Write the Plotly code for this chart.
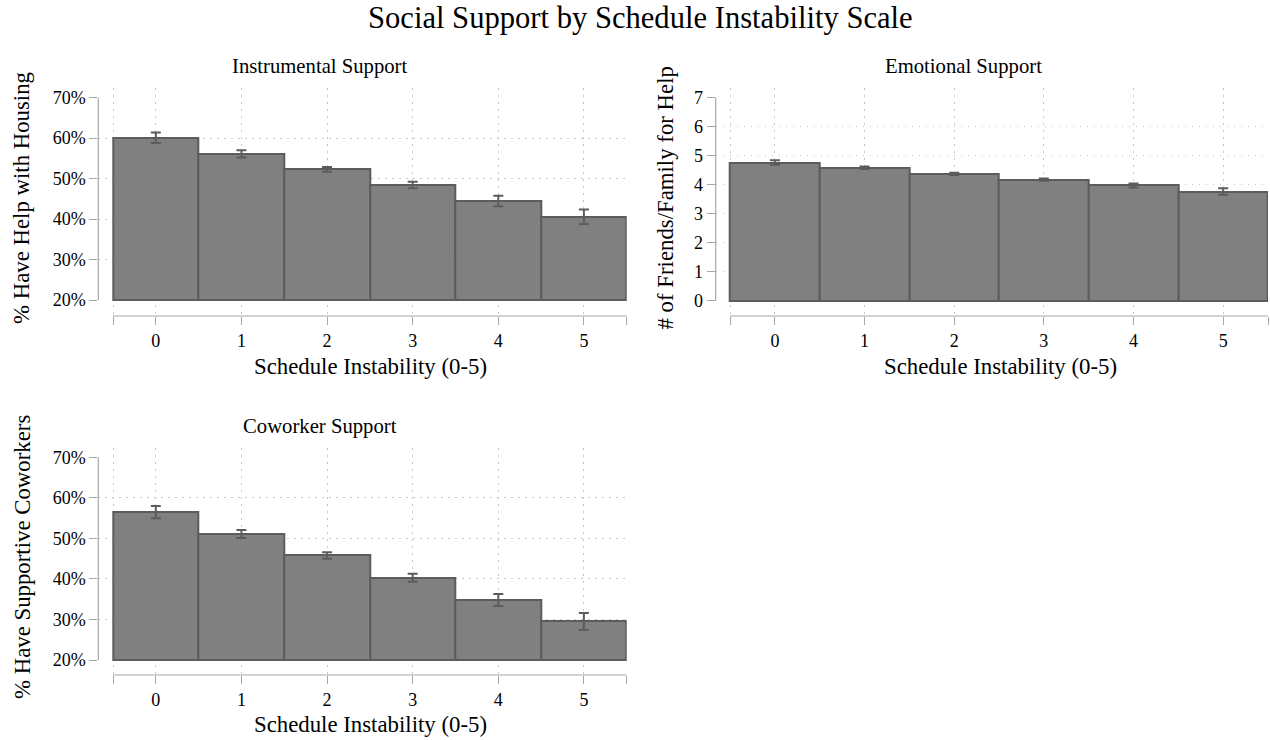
import plotly.graph_objects as go

# ---------------- data ----------------
categories = [0, 1, 2, 3, 4, 5]
tick_labels = ["0", "1", "2", "3", "4", "5"]

instrumental_pct = [60.1, 56.1, 52.3, 48.4, 44.5, 40.6]
instrumental_err = [1.3, 0.9, 0.6, 0.8, 1.3, 1.8]

emotional_count = [4.76, 4.58, 4.37, 4.17, 3.97, 3.76]
emotional_err = [0.08, 0.04, 0.04, 0.04, 0.07, 0.11]

coworker_pct = [56.5, 51.1, 45.8, 40.3, 34.8, 29.5]
coworker_err = [1.5, 1.0, 0.8, 1.0, 1.5, 2.1]

pct_ticks = [20, 30, 40, 50, 60, 70]
pct_tick_labels = ["20%", "30%", "40%", "50%", "60%", "70%"]
count_ticks = [0, 1, 2, 3, 4, 5, 6, 7]
count_tick_labels = ["0", "1", "2", "3", "4", "5", "6", "7"]

main_title = "Social Support by Schedule Instability Scale"
panel_titles = ["Instrumental Support", "Emotional Support", "Coworker Support"]
x_title = "Schedule Instability (0-5)"
y_titles = ["% Have Help with Housing", "# of Friends/Family for Help", "% Have Supportive Coworkers"]

# ---------------- styling ----------------
W, H = 1270, 740
FONT = "Liberation Serif, Times New Roman, serif"
BAR_FILL = "#808080"
BAR_LINE = "#5c5c5c"
AXIS_COL = "#a6a6a6"
GRID_COL = "#c8c8c8"
GRID_DASH = "1.5px,5.5px"
TICK_FONT = dict(family=FONT, size=18, color="black")


def fx(px):
    return px / W


def fy(px):
    return 1 - px / H


fig = go.Figure()

panels = [
    dict(vals=instrumental_pct, errs=instrumental_err, base=20, xa="x", ya="y",
         xdom=(98.3, 626.7), ydom=(88, 316), xr=[-0.672, 5.5], yr=[16.05, 72.4],
         yt=pct_ticks, ytt=pct_tick_labels, ymin=20, ymax=70),
    dict(vals=emotional_count, errs=emotional_err, base=0, xa="x2", ya="y2",
         xdom=(715.7, 1268), ydom=(88, 316), xr=[-0.66, 5.5], yr=[-0.53, 7.33],
         yt=count_ticks, ytt=count_tick_labels, ymin=0, ymax=7),
    dict(vals=coworker_pct, errs=coworker_err, base=20, xa="x3", ya="y3",
         xdom=(98.3, 626.7), ydom=(448, 675), xr=[-0.672, 5.5], yr=[16.3, 72.3],
         yt=pct_ticks, ytt=pct_tick_labels, ymin=20, ymax=70),
]

for i, p in enumerate(panels):
    base = p["base"]
    fig.add_trace(go.Bar(
        x=categories, y=[v - base for v in p["vals"]], base=base, width=1,
        marker=dict(color=BAR_FILL, line=dict(color=BAR_LINE, width=2)),
        xaxis=p["xa"], yaxis=p["ya"], showlegend=False, hoverinfo="skip"))
    fig.add_trace(go.Scatter(
        x=categories, y=p["vals"], mode="markers",
        marker=dict(size=1, opacity=0),
        error_y=dict(type="data", array=p["errs"], visible=True,
                     color=BAR_LINE, thickness=2, width=5),
        xaxis=p["xa"], yaxis=p["ya"], showlegend=False))

    suffix = "" if i == 0 else str(i + 1)
    inner = [t for t in p["yt"] if p["ymin"] < t < p["ymax"]]
    fig.update_layout(**{
        "xaxis" + suffix: dict(
            domain=[fx(p["xdom"][0]), fx(p["xdom"][1])],
            anchor=p["ya"], range=p["xr"],
            tickmode="array", tickvals=[-0.5] + categories + [5.5],
            ticktext=[""] + tick_labels + [""],
            ticks="outside", ticklen=8, tickcolor=AXIS_COL, tickwidth=1,
            showline=False, zeroline=False,
            showgrid=True, gridcolor=GRID_COL, griddash=GRID_DASH, gridwidth=1,
            tickfont=TICK_FONT,
            fixedrange=True),
        "yaxis" + suffix: dict(
            domain=[fy(p["ydom"][1]), fy(p["ydom"][0])],
            anchor=p["xa"], range=p["yr"],
            tickmode="array", tickvals=p["yt"], ticktext=p["ytt"],
            ticks="outside", ticklen=8, tickcolor=AXIS_COL, tickwidth=1,
            showline=False, zeroline=False, showgrid=False,
            minor=dict(tickmode="array", tickvals=inner, showgrid=True,
                       gridcolor=GRID_COL, griddash=GRID_DASH, gridwidth=1, ticks=""),
            tickfont=TICK_FONT,
            fixedrange=True),
    })
    fig.add_shape(type="line", xref=p["xa"] + " domain", yref=p["ya"],
                  x0=0, x1=0, y0=p["ymin"], y1=p["ymax"],
                  line=dict(color=AXIS_COL, width=1.2), layer="above")
    fig.add_shape(type="line", xref=p["xa"], yref=p["ya"] + " domain",
                  x0=-0.5, x1=5.5, y0=0, y1=0,
                  line=dict(color=AXIS_COL, width=1.2), layer="above")

annotations = []


def add_text(text, x, y, size, angle=0):
    annotations.append(dict(text=text, x=fx(x), y=fy(y), xref="paper", yref="paper",
                            showarrow=False, xanchor="center", yanchor="middle",
                            textangle=angle,
                            font=dict(family=FONT, size=size, color="black")))


add_text(main_title, 640, 18, 30.6)
add_text(panel_titles[0], 320, 67, 20.7)
add_text(panel_titles[1], 963, 67, 20.7)
add_text(panel_titles[2], 320, 426, 20.7)
add_text(x_title, 370, 366, 22.8)
add_text(x_title, 1000, 366, 22.8)
add_text(x_title, 370, 724, 22.8)
add_text(y_titles[0], 22, 198, 22.8, -90)
add_text(y_titles[1], 665, 198.5, 22.8, -90)
add_text(y_titles[2], 22, 557, 22.8, -90)

fig.update_layout(
    width=W, height=H,
    margin=dict(l=0, r=0, t=0, b=0),
    paper_bgcolor="white", plot_bgcolor="white",
    showlegend=False, bargap=0,
    font=dict(family=FONT, color="black"),
    annotations=annotations,
)

fig.write_html("out.html",
               config={"displayModeBar": False},
               post_script="document.body.style.margin='0';document.body.style.padding='0';")
